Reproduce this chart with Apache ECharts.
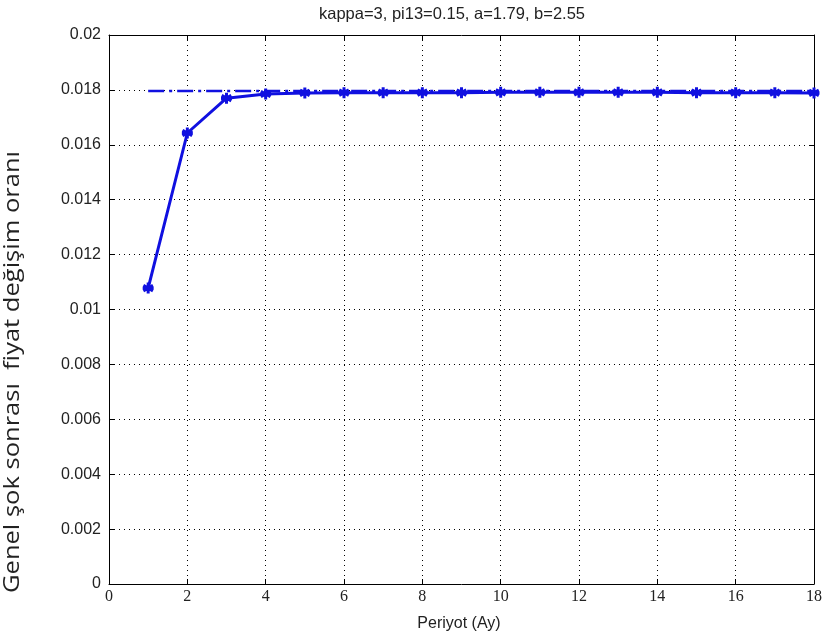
<!DOCTYPE html>
<html>
<head>
<meta charset="utf-8">
<script src="https://cdn.jsdelivr.net/npm/echarts@6/dist/echarts.min.js"></script>
<style>
html, body { margin: 0; padding: 0; background: #fff; }
#main { width: 825px; height: 636px; }
</style>
</head>
<body>
<div id="main"></div>
<script>
// periods (months)
var periods = [1, 2, 3, 4, 5, 6, 7, 8, 9, 10, 11, 12, 13, 14, 15, 16, 17, 18];
// price change after the shock
var priceChange = [0.01078, 0.01643, 0.01770, 0.01785, 0.01789, 0.01790, 0.01790, 0.01790, 0.01790,
                   0.01791, 0.01791, 0.01791, 0.01791, 0.01791, 0.01790, 0.01790, 0.01790, 0.01789];
// steady state level (dash-dot line)
var steadyX = [1, 18];
var steadyY = [0.01796, 0.01796];

var chartTitle = 'kappa=3, pi13=0.15, a=1.79, b=2.55';
var xName = 'Periyot (Ay)';
var yName = 'Genel şok sonrası  fiyat değişim oranı';

var starPath = 'path://M0,-10 L0,10 M-8.7,-5 L8.7,5 M-8.7,5 L8.7,-5 M-10,0 L10,0';

var chart = echarts.init(document.getElementById('main'));

var baseAxisX = {
    type: 'value', min: 0, max: 18, interval: 2,
    axisLine: { show: true, onZero: false, lineStyle: { color: '#000', width: 1 } },
    axisTick: { show: true, inside: true, length: 5, lineStyle: { color: '#000' } }
};
var baseAxisY = {
    type: 'value', min: 0, max: 0.02, interval: 0.002,
    axisLine: { show: true, onZero: false, lineStyle: { color: '#000', width: 1 } },
    axisTick: { show: true, inside: true, length: 5, lineStyle: { color: '#000' } }
};

chart.setOption({
    backgroundColor: '#fff',
    animation: false,
    graphic: [
        {   // top title
            type: 'text', x: 452, y: 14,
            style: { text: chartTitle, fontFamily: 'Liberation Sans', fontSize: 16.5, fill: '#222',
                     align: 'center', verticalAlign: 'middle' }
        },
        {   // x axis name
            type: 'text', x: 459, y: 624,
            style: { text: xName, fontFamily: 'Liberation Sans', fontSize: 16, fill: '#222',
                     align: 'center', verticalAlign: 'middle' }
        },
        {   // y axis name
            type: 'text', x: 13, y: 372, rotation: Math.PI / 2, scaleX: 1.16,
            style: { text: yName, fontFamily: 'Open Sans', fontSize: 22, fill: '#222',
                     align: 'center', verticalAlign: 'middle' }
        }
    ],
    grid: { left: 109, right: 7, top: 35, bottom: 52 },
    xAxis: [
        Object.assign({}, baseAxisX, {
            position: 'bottom',
            axisLabel: { fontFamily: 'Liberation Sans Narrow', fontSize: 16, color: '#222', margin: 5 },
            splitLine: { show: true, lineStyle: { color: '#000', type: [1, 4], width: 1 } }
        }),
        Object.assign({}, baseAxisX, {
            position: 'top',
            axisLabel: { show: false },
            splitLine: { show: false }
        })
    ],
    yAxis: [
        Object.assign({}, baseAxisY, {
            position: 'left',
            axisLabel: {
                fontFamily: 'Liberation Sans', fontSize: 16, color: '#222', margin: 8,
                formatter: function (v) { return v === 0 ? '0' : String(+v.toFixed(3)); }
            },
            splitLine: { show: true, lineStyle: { color: '#000', type: [1, 4], width: 1 } }
        }),
        Object.assign({}, baseAxisY, {
            position: 'right',
            axisLabel: { show: false },
            splitLine: { show: false }
        })
    ],
    series: [
        {
            type: 'line',
            data: steadyX.map(function (x, i) { return [x, steadyY[i]]; }),
            symbol: 'none',
            lineStyle: { color: '#1010e0', width: 2.5, type: [16, 5, 3, 5] },
            z: 2
        },
        {
            type: 'line',
            data: periods.map(function (x, i) { return [x, priceChange[i]]; }),
            symbol: starPath,
            symbolSize: 11,
            itemStyle: { color: '#1010e0', borderColor: '#1010e0', borderWidth: 3 },
            lineStyle: { color: '#1010e0', width: 3 },
            z: 3
        }
    ]
});
</script>
</body>
</html>
